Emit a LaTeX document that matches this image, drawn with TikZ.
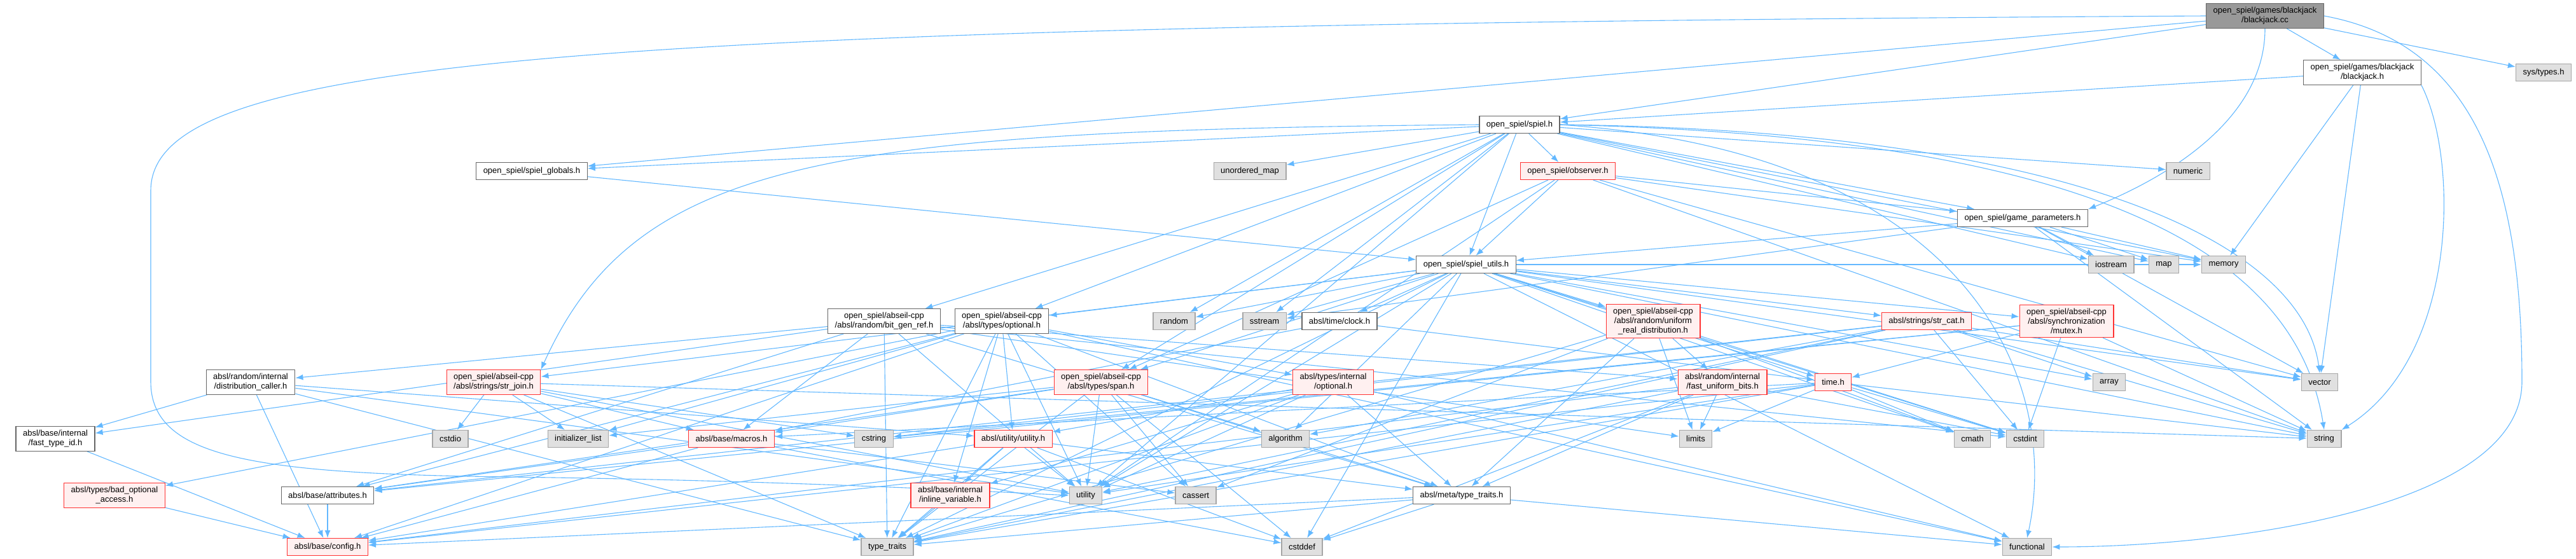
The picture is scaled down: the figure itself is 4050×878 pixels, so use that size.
\documentclass[tikz,border=0pt]{standalone}
\usepackage{fontspec}
\setmainfont{Liberation Sans}
\usepackage{tikz}
\usetikzlibrary{arrows.meta,backgrounds}
\definecolor{edgeblue}{RGB}{99,184,255}
\definecolor{rootgray}{RGB}{153,153,153}
\definecolor{sysgray}{RGB}{224,224,224}
\definecolor{softred}{RGB}{255,240,240}
\definecolor{deepred}{RGB}{255,50,50}
\tikzset{
  hdr/.style={draw=black!60,fill=white,line width=1.2pt,align=center,inner xsep=11pt,inner ysep=5.75pt,
    minimum height=27pt,font=\fontsize{13}{15}\selectfont},
  hdrroot/.style={hdr,fill=rootgray,draw=black!60},
  hdrsys/.style={hdr,fill=sysgray,draw=black!35},
  hdrcut/.style={hdr,fill=softred,draw=deepred},
  incl/.style={-{Latex[length=12pt,width=9pt]},line width=1.1pt,draw=edgeblue}
}

\begin{document}
\begin{tikzpicture}[x=1pt,y=-1pt]
  \useasboundingbox (0,0) rectangle (4050,878);
  % top rows
  \node[hdrroot] (root) at (3561,25) {open\_spiel/games/blackjack\\/blackjack.cc};
  \node[hdr] (bjh) at (3714,114) {open\_spiel/games/blackjack\\/blackjack.h};
  \node[hdrsys] (systypes) at (3999,114) {sys/types.h};
  \node[hdr] (spiel) at (2389,196) {open\_spiel/spiel.h};
  \node[hdr] (globals) at (836,269) {open\_spiel/spiel\_globals.h};
  \node[hdrsys] (umap) at (1965,269) {unordered\_map};
  \node[hdrcut] (observer) at (2465,269) {open\_spiel/observer.h};
  \node[hdrsys] (numeric) at (3440,269) {numeric};
  \node[hdr] (params) at (3180,343) {open\_spiel/game\_parameters.h};
  \node[hdr] (utils) at (2305,416) {open\_spiel/spiel\_utils.h};
  \node[hdrsys] (iostream) at (3319,416) {iostream};
  \node[hdrsys] (map) at (3402,416) {map};
  \node[hdrsys] (memory) at (3496,416) {memory};
  % abseil rows
  \node[hdr] (bitgen) at (1390,505) {open\_spiel/abseil-cpp\\/absl/random/bit\_gen\_ref.h};
  \node[hdr] (optional) at (1575,505) {open\_spiel/abseil-cpp\\/absl/types/optional.h};
  \node[hdrsys] (random) at (1846,505) {random};
  \node[hdrsys] (sstream) at (1988,505) {sstream};
  \node[hdr] (clock) at (2106,505) {absl/time/clock.h};
  \node[hdrcut] (uniform) at (2599,505) {open\_spiel/abseil-cpp\\/absl/random/uniform\\\_real\_distribution.h};
  \node[hdrcut] (strcat) at (3029,505) {absl/strings/str\_cat.h};
  \node[hdrcut] (mutex) at (3249,505) {open\_spiel/abseil-cpp\\/absl/synchronization\\/mutex.h};
  \node[hdr] (distcaller) at (394,601) {absl/random/internal\\/distribution\_caller.h};
  \node[hdrcut] (strjoin) at (776,601) {open\_spiel/abseil-cpp\\/absl/strings/str\_join.h};
  \node[hdrcut] (span) at (1731,601) {open\_spiel/abseil-cpp\\/absl/types/span.h};
  \node[hdrcut] (intoptional) at (2096,601) {absl/types/internal\\/optional.h};
  \node[hdrcut] (fastbits) at (2708,601) {absl/random/internal\\/fast\_uniform\_bits.h};
  \node[hdrcut] (timeh) at (2882,601) {time.h};
  \node[hdrsys] (array) at (3316,601) {array};
  \node[hdrsys] (vector) at (3647,601) {vector};
  \node[hdr] (fasttypeid) at (87,690) {absl/base/internal\\/fast\_type\_id.h};
  \node[hdrsys] (cstdio) at (708,690) {cstdio};
  \node[hdrsys] (initlist) at (909,690) {initializer\_list};
  \node[hdrcut] (macros) at (1150,690) {absl/base/macros.h};
  \node[hdrsys] (cstring) at (1374,690) {cstring};
  \node[hdrcut] (utilh) at (1593,690) {absl/utility/utility.h};
  \node[hdrsys] (algorithm) at (2021,690) {algorithm};
  \node[hdrsys] (limits) at (2666,690) {limits};
  \node[hdrsys] (cmath) at (3101,690) {cmath};
  \node[hdrsys] (cstdint) at (3184,690) {cstdint};
  \node[hdrsys] (string) at (3654,690) {string};
  \node[hdrcut] (badopt) at (180,779) {absl/types/bad\_optional\\\_access.h};
  \node[hdr] (attributes) at (515,779) {absl/base/attributes.h};
  \node[hdrcut] (inlinevar) at (1494,779) {absl/base/internal\\/inline\_variable.h};
  \node[hdrsys] (utility) at (1707,779) {utility};
  \node[hdrsys] (cassert) at (1880,779) {cassert};
  \node[hdr] (metatraits) at (2298,779) {absl/meta/type\_traits.h};
  \node[hdrcut] (config) at (515,860) {absl/base/config.h};
  \node[hdrsys] (typetraits) at (1395,860) {type\_traits};
  \node[hdrsys] (cstddef) at (2047,860) {cstddef};
  \node[hdrsys] (functional) at (3187,860) {functional};

  \begin{scope}[on background layer]
  % blackjack sources
  \draw[incl] (root) -- (bjh);
  \draw[incl] (root) -- (systypes);
  \draw[incl] (root) -- (spiel);
  \draw[incl] (root) -- (globals);
  \draw[incl] (root.south) .. controls (3561,200) and (3380,290) .. (params.north east);
  \draw[incl] (root.west) .. controls (900,40) and (237,90) .. (237,300) -- (237,600)
    .. controls (237,720) and (400,745) .. (800,750) .. controls (1200,755) and (1500,770) .. (utility.west);
  \draw[incl] (root.east) .. controls (3900,70) and (3965,300) .. (3965,600) .. controls (3965,800) and (3500,860) .. (functional.east);
  \draw[incl] (bjh) -- (spiel);
  \draw[incl] (bjh) -- (memory);
  \draw[incl] (bjh) -- (vector);
  \draw[incl] (bjh.south east) .. controls (3866,250) and (3866,560) .. (string.north east);
  \draw[incl] (globals) -- (utils);
  % spiel.h
  \draw[incl] (spiel) -- (umap);
  \draw[incl] (spiel) -- (observer);
  \draw[incl] (spiel) -- (utils);
  \draw[incl] (spiel) -- (numeric);
  \draw[incl] (spiel) -- (params);
  \draw[incl] (spiel) -- (iostream);
  \draw[incl] (spiel) -- (map);
  \draw[incl] (spiel) -- (memory);
  \draw[incl] (spiel) -- (globals);
  \draw[incl] (spiel) -- (bitgen);
  \draw[incl] (spiel.west) .. controls (1300,205) and (1000,250) .. (strjoin.north east);
  \draw[incl] (spiel) -- (optional);
  \draw[incl] (spiel) -- (span);
  \draw[incl] (spiel) -- (random);
  \draw[incl] (spiel) -- (sstream);
  \draw[incl] (spiel.east) .. controls (3300,215) and (3610,400) .. (string.north);
  \draw[incl] (spiel.east) .. controls (3250,205) and (3620,380) .. (vector.north);
  \draw[incl] (spiel.east) .. controls (3100,240) and (3240,600) .. (functional.north);
  \draw[incl] (spiel) -- (utility);
  % observer.h and game_parameters.h
  \draw[incl] (observer) -- (utils);
  \draw[incl] (observer) -- (params);
  \draw[incl] (observer) -- (memory);
  \draw[incl] (observer) -- (string);
  \draw[incl] (observer) -- (vector);
  \draw[incl] (observer) -- (utility);
  \draw[incl] (observer) -- (span);
  \draw[incl] (params) -- (utils);
  \draw[incl] (params) -- (iostream);
  \draw[incl] (params) -- (map);
  \draw[incl] (params) -- (memory);
  \draw[incl] (params) -- (string);
  \draw[incl] (params) -- (vector);
  \draw[incl] (params) -- (sstream);
  % spiel_utils.h
  \draw[incl] (utils) -- (random);
  \draw[incl] (utils) -- (sstream);
  \draw[incl] (utils) -- (clock);
  \draw[incl] (utils) -- (uniform);
  \draw[incl] (utils) -- (strcat);
  \draw[incl] (utils) -- (mutex);
  \draw[incl] (utils) -- (timeh);
  \draw[incl] (utils) -- (strjoin);
  \draw[incl] (utils) -- (optional);
  \draw[incl] (utils) -- (span);
  \draw[incl] (utils) -- (array);
  \draw[incl] (utils) -- (vector);
  \draw[incl] (utils) -- (cmath);
  \draw[incl] (utils) -- (cstdint);
  \draw[incl] (utils) -- (string);
  \draw[incl] (utils) -- (algorithm);
  \draw[incl] (utils) -- (functional);
  \draw[incl] (utils) -- (cstddef);
  \draw[incl] (utils) -- (typetraits);
  \draw[incl] (utils) -- (utility);
  \draw[incl] (utils) -- (memory);
  % random
  \draw[incl] (bitgen) -- (distcaller);
  \draw[incl] (bitgen) -- (fasttypeid);
  \draw[incl] (bitgen) -- (macros);
  \draw[incl] (bitgen) -- (metatraits);
  \draw[incl] (bitgen) -- (fastbits);
  \draw[incl] (bitgen) -- (limits);
  \draw[incl] (bitgen) -- (typetraits);
  \draw[incl] (bitgen) -- (utility);
  \draw[incl] (bitgen) -- (attributes);
  \draw[incl] (bitgen) -- (cstdint);
  \draw[incl] (distcaller) -- (fasttypeid);
  \draw[incl] (distcaller) -- (config);
  \draw[incl] (distcaller) -- (utilh);
  \draw[incl] (distcaller) -- (typetraits);
  \draw[incl] (distcaller) -- (utility);
  \draw[incl] (fasttypeid) -- (config);
  \draw[incl] (uniform) -- (cassert);
  \draw[incl] (uniform) -- (metatraits);
  \draw[incl] (uniform) -- (typetraits);
  \draw[incl] (uniform) -- (limits);
  \draw[incl] (uniform) -- (fastbits);
  \draw[incl] (uniform) -- (cmath);
  \draw[incl] (uniform) -- (cstdint);
  \draw[incl] (fastbits) -- (limits);
  \draw[incl] (fastbits) -- (metatraits);
  \draw[incl] (fastbits) -- (cstdint);
  \draw[incl] (fastbits) -- (typetraits);
  \draw[incl] (fastbits) -- (cstddef);
  \draw[incl] (fastbits) -- (config);
  % strings
  \draw[incl] (strjoin) -- (cstdio);
  \draw[incl] (strjoin) -- (initlist);
  \draw[incl] (strjoin) -- (macros);
  \draw[incl] (strjoin) -- (cstring);
  \draw[incl] (strjoin) -- (string);
  \draw[incl] (strjoin) -- (typetraits);
  \draw[incl] (strjoin) -- (utility);
  \draw[incl] (strcat) -- (cstdint);
  \draw[incl] (strcat) -- (array);
  \draw[incl] (strcat) -- (string);
  \draw[incl] (strcat) -- (vector);
  \draw[incl] (strcat) -- (algorithm);
  \draw[incl] (strcat) -- (attributes);
  \draw[incl] (strcat) -- (typetraits);
  \draw[incl] (strcat) -- (utility);
  \draw[incl] (strcat) -- (cstring);
  % types
  \draw[incl] (optional) -- (config);
  \draw[incl] (optional) -- (utilh);
  \draw[incl] (optional) -- (utility);
  \draw[incl] (optional) -- (cassert);
  \draw[incl] (optional) -- (functional);
  \draw[incl] (optional) -- (initlist);
  \draw[incl] (optional) -- (typetraits);
  \draw[incl] (optional) -- (attributes);
  \draw[incl] (optional) -- (inlinevar);
  \draw[incl] (optional) -- (metatraits);
  \draw[incl] (optional) -- (badopt);
  \draw[incl] (optional) -- (intoptional);
  \draw[incl] (span) -- (attributes);
  \draw[incl] (span) -- (macros);
  \draw[incl] (span) -- (initlist);
  \draw[incl] (span) -- (typetraits);
  \draw[incl] (span) -- (utility);
  \draw[incl] (span) -- (cstddef);
  \draw[incl] (span) -- (cassert);
  \draw[incl] (span) -- (metatraits);
  \draw[incl] (span) -- (algorithm);
  \draw[incl] (intoptional) -- (utilh);
  \draw[incl] (intoptional) -- (inlinevar);
  \draw[incl] (intoptional) -- (typetraits);
  \draw[incl] (intoptional) -- (utility);
  \draw[incl] (intoptional) -- (metatraits);
  \draw[incl] (intoptional) -- (functional);
  \draw[incl] (badopt) -- (config);
  % base, utility, meta
  \draw[incl] (utilh) -- (inlinevar);
  \draw[incl] (utilh) -- (typetraits);
  \draw[incl] (utilh) -- (utility);
  \draw[incl] (utilh) -- (metatraits);
  \draw[incl] (utilh) -- (cstddef);
  \draw[incl] (utilh) -- (config);
  \draw[incl] (inlinevar) -- (typetraits);
  \draw[incl] (metatraits) -- (typetraits);
  \draw[incl] (metatraits) -- (cstddef);
  \draw[incl] (metatraits) -- (functional);
  \draw[incl] (metatraits) -- (config);
  \draw[incl] (attributes) -- (config);
  \draw[incl] (macros) -- (attributes);
  \draw[incl] (macros) -- (config);
  \draw[incl] (macros) -- (cassert);
  \draw[incl] (macros) -- (cstddef);
  % time and synchronization
  \draw[incl] (clock) -- (macros);
  \draw[incl] (clock) -- (timeh);
  \draw[incl] (timeh) -- (string);
  \draw[incl] (timeh) -- (cstdint);
  \draw[incl] (timeh) -- (cmath);
  \draw[incl] (timeh) -- (limits);
  \draw[incl] (timeh) -- (typetraits);
  \draw[incl] (timeh) -- (utility);
  \draw[incl] (timeh) -- (macros);
  \draw[incl] (timeh) -- (config);
  \draw[incl] (mutex) -- (timeh);
  \draw[incl] (mutex) -- (cstdint);
  \draw[incl] (mutex) -- (string);
  \draw[incl] (mutex) -- (attributes);
  \draw[incl] (mutex) -- (cstring);
  \end{scope}
\end{tikzpicture}
\end{document}
